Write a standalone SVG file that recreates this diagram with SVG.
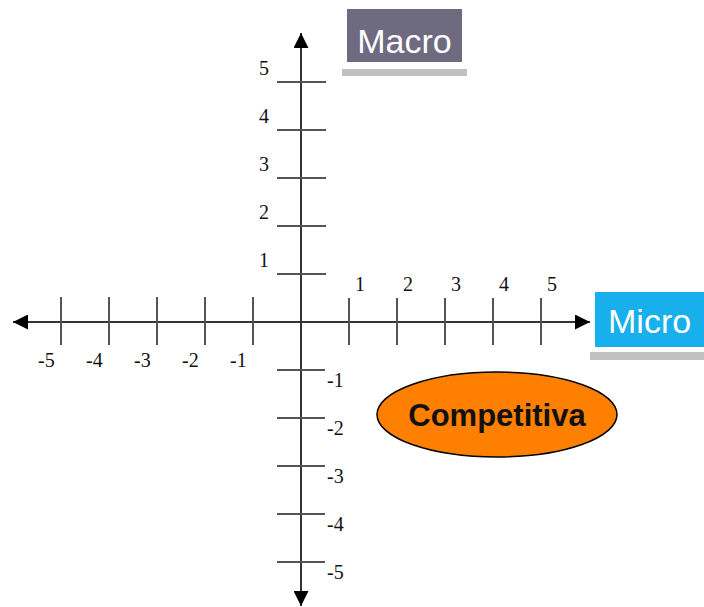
<svg xmlns="http://www.w3.org/2000/svg" width="704" height="607" viewBox="0 0 704 607">
  <style>
    .axis { stroke: #333; stroke-width: 2; fill: none; }
    .tick { stroke: #555; stroke-width: 2; fill: none; }
    .num { font-family: "Liberation Serif", "Times New Roman", serif; font-size: 20px; fill: #111; }
    .title { font-family: "Liberation Sans", Arial, sans-serif; font-size: 34px; fill: #fff; }
    .oval-label { font-family: "Liberation Sans", Arial, sans-serif; font-size: 31px; font-weight: bold; fill: #111; }
  </style>
  <defs>
    <marker id="arrow" viewBox="0 0 10 10" refX="10" refY="5" markerWidth="15" markerHeight="15" markerUnits="userSpaceOnUse" orient="auto">
      <path d="M0,0 L10,5 L0,10 Z" fill="#000"/>
    </marker>
  </defs>

  <!-- axes -->
  <g id="connectors">
    <line class="axis" x1="301" y1="322" x2="590" y2="322" marker-end="url(#arrow)"/>
    <line class="axis" x1="301" y1="322" x2="13" y2="322" marker-end="url(#arrow)"/>
    <line class="axis" x1="301" y1="322" x2="301" y2="33" marker-end="url(#arrow)"/>
    <line class="axis" x1="301" y1="322" x2="301" y2="606" marker-end="url(#arrow)"/>
  </g>

  <!-- tick marks -->
  <g id="ticks">
    <line class="tick" x1="61" y1="297" x2="61" y2="345"/>
    <line class="tick" x1="109" y1="297" x2="109" y2="345"/>
    <line class="tick" x1="157" y1="297" x2="157" y2="345"/>
    <line class="tick" x1="205" y1="297" x2="205" y2="345"/>
    <line class="tick" x1="253" y1="297" x2="253" y2="345"/>
    <line class="tick" x1="349" y1="298" x2="349" y2="345"/>
    <line class="tick" x1="397" y1="298" x2="397" y2="345"/>
    <line class="tick" x1="445" y1="298" x2="445" y2="345"/>
    <line class="tick" x1="493" y1="298" x2="493" y2="345"/>
    <line class="tick" x1="541" y1="298" x2="541" y2="345"/>
    <line class="tick" x1="277" y1="82" x2="326" y2="82"/>
    <line class="tick" x1="277" y1="130" x2="326" y2="130"/>
    <line class="tick" x1="277" y1="178" x2="326" y2="178"/>
    <line class="tick" x1="277" y1="226" x2="326" y2="226"/>
    <line class="tick" x1="277" y1="274" x2="326" y2="274"/>
    <line class="tick" x1="277" y1="370" x2="325" y2="370"/>
    <line class="tick" x1="277" y1="418" x2="325" y2="418"/>
    <line class="tick" x1="277" y1="466" x2="325" y2="466"/>
    <line class="tick" x1="277" y1="514" x2="325" y2="514"/>
    <line class="tick" x1="277" y1="562" x2="325" y2="562"/>
  </g>

  <!-- tick labels -->
  <g id="labels">
    <text class="num" x="38" y="367">-5</text>
    <text class="num" x="86" y="367">-4</text>
    <text class="num" x="134" y="367">-3</text>
    <text class="num" x="182" y="367">-2</text>
    <text class="num" x="230" y="367">-1</text>
    <text class="num" x="355" y="291">1</text>
    <text class="num" x="403" y="291">2</text>
    <text class="num" x="451" y="291">3</text>
    <text class="num" x="499" y="291">4</text>
    <text class="num" x="547" y="291">5</text>
    <text class="num" x="259" y="75">5</text>
    <text class="num" x="259" y="123">4</text>
    <text class="num" x="259" y="171">3</text>
    <text class="num" x="259" y="219">2</text>
    <text class="num" x="259" y="267">1</text>
    <text class="num" x="327" y="387">-1</text>
    <text class="num" x="327" y="435">-2</text>
    <text class="num" x="327" y="483">-3</text>
    <text class="num" x="327" y="531">-4</text>
    <text class="num" x="327" y="579">-5</text>
  </g>

  <!-- Macro label -->
  <g id="macro">
    <rect x="342" y="69" width="125" height="7" fill="#c0c0c0"/>
    <rect x="347" y="9" width="115" height="53" fill="#6e6a7f"/>
    <text class="title" x="404.5" y="53" text-anchor="middle">Macro</text>
  </g>

  <!-- Micro label -->
  <g id="micro">
    <rect x="590" y="352" width="114" height="8" fill="#c0c0c0"/>
    <rect x="595" y="292" width="109" height="55" fill="#17b0ec"/>
    <text class="title" x="608" y="333" font-size="36">Micro</text>
  </g>

  <!-- Competitiva oval -->
  <g id="competitiva">
    <ellipse cx="497" cy="414.5" rx="120" ry="42.5" fill="#ff8000" stroke="#000" stroke-width="1.5"/>
    <text class="oval-label" x="497" y="426" text-anchor="middle">Competitiva</text>
  </g>
</svg>
